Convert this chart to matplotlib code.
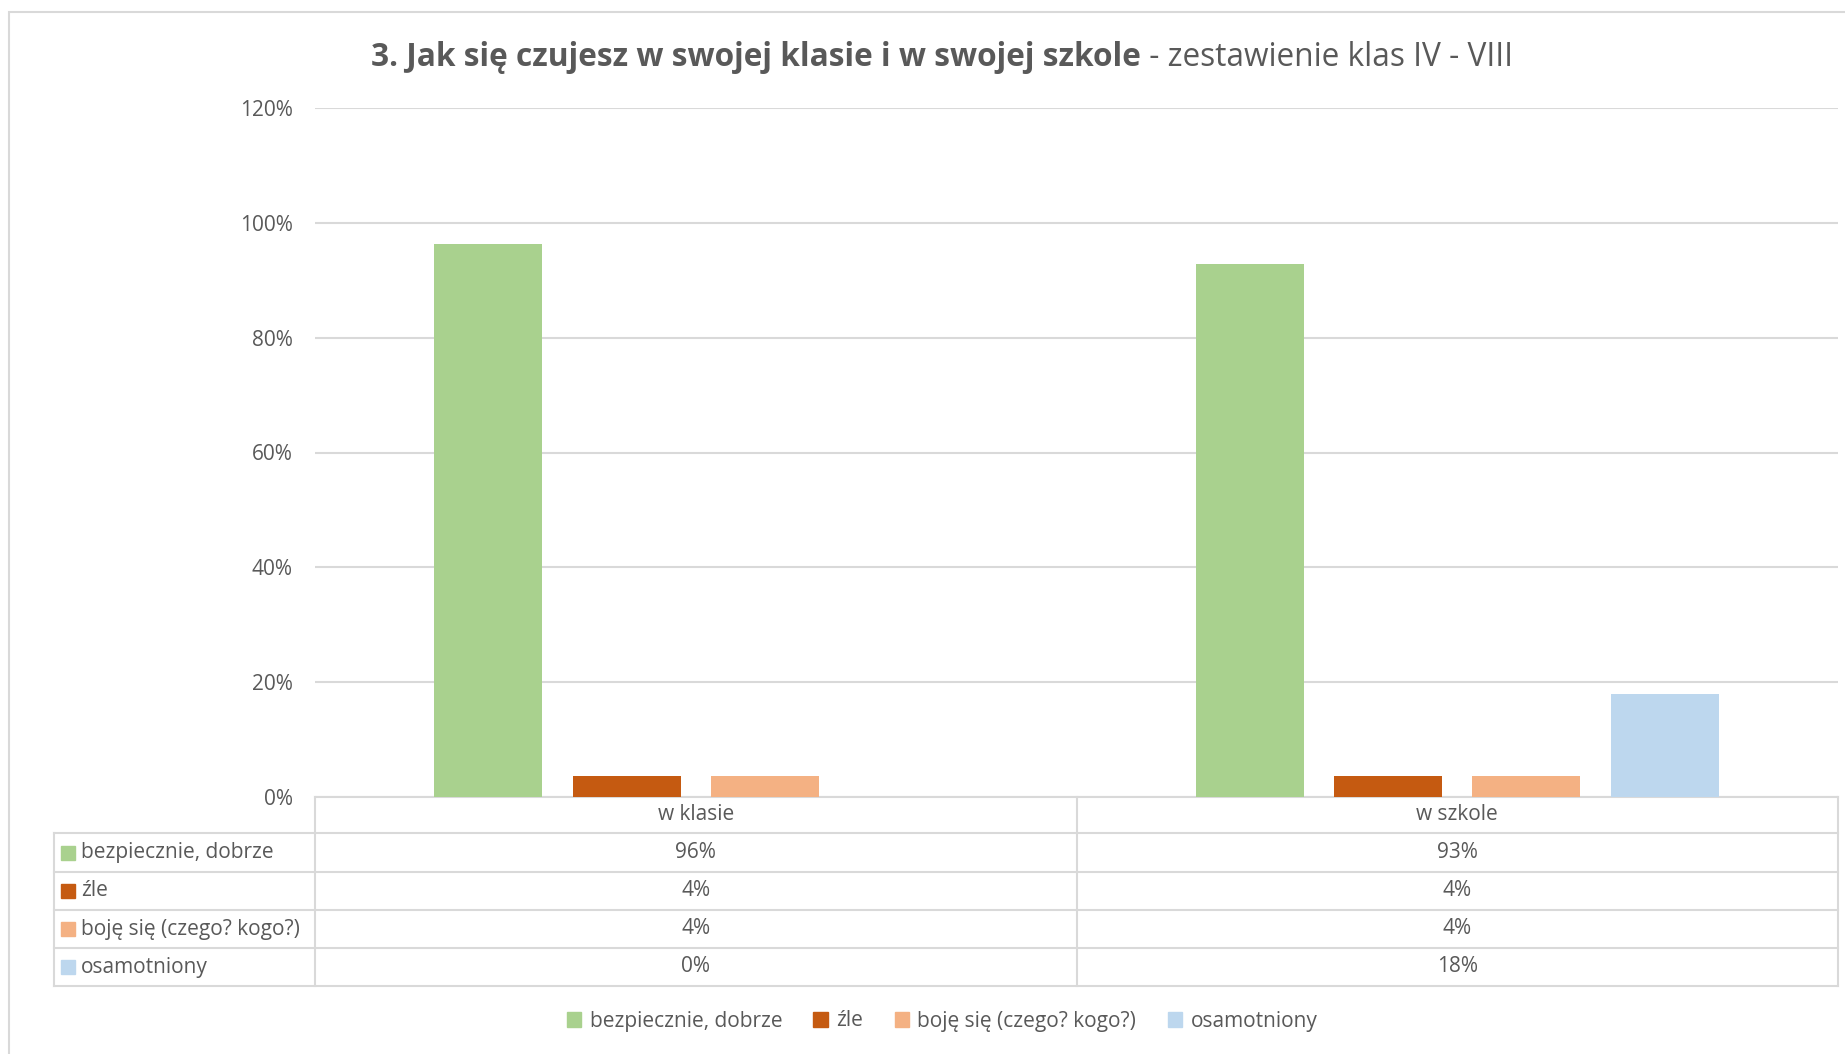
import matplotlib
matplotlib.use("Agg")
import matplotlib.pyplot as plt
import numpy as np
from matplotlib.lines import Line2D
from matplotlib.patches import Patch, Rectangle
from matplotlib.ticker import PercentFormatter

plt.rcParams['font.family'] = ['Open Sans', 'DejaVu Sans']

# data
categories = ['w klasie', 'w szkole']
series = ['bezpiecznie, dobrze', 'źle', 'boję się (czego? kogo?)', 'osamotniony']
values = [
    [0.964, 0.929],   # bezpiecznie, dobrze
    [0.036, 0.036],   # źle
    [0.036, 0.036],   # boję się
    [0.0, 0.179],     # osamotniony
]
colors = ['#A9D18E', '#C55A11', '#F4B183', '#BDD7EE']
title_bold = '3. Jak się czujesz w swojej klasie i w swojej szkole'
title_rest = ' - zestawienie klas IV - VIII'

text_col = '#595959'
line_col = '#D9D9D9'
fs = 15
W, H = 1845, 1054

fig = plt.figure(figsize=(W / 100, H / 100), dpi=100)

def fx(px):
    return px / W

def fy(py):
    return 1 - py / H

# chart border
fig.patches.append(Rectangle((fx(9), fy(1060)), fx(1850) - fx(9), fy(12) - fy(1060),
                             transform=fig.transFigure, fill=False, edgecolor=line_col, lw=1.5))

# plot area
x0, x1, ytop, ybot = 315, 1838, 108, 797
ax = fig.add_axes([fx(x0), fy(ybot), fx(x1) - fx(x0), fy(ytop) - fy(ybot)])

x = np.arange(len(categories))
step = 0.1816
width = 0.142
for i, (name, vals) in enumerate(zip(series, values)):
    ax.bar(x + (i - 1.5) * step, vals, width, color=colors[i], label=name, zorder=3)

ax.set_xlim(-0.5, len(categories) - 0.5)
ax.set_ylim(0, 1.2)
ax.set_yticks(np.arange(0, 1.21, 0.2))
ax.yaxis.set_major_formatter(PercentFormatter(1.0, decimals=0))
ax.set_xticks([])
ax.tick_params(axis='y', length=0, pad=16, labelsize=fs, labelcolor=text_col)
ax.grid(axis='y', color=line_col, lw=1.5, zorder=0)
for s in ['top', 'right', 'left']:
    ax.spines[s].set_visible(False)
ax.spines['bottom'].set_color(line_col)
ax.spines['bottom'].set_linewidth(1.5)

# data table below the plot
rows_y = [797, 833, 872, 910, 948, 986]
tbl_left = 54
col_x = [x0, (x0 + x1) / 2, x1]

def hline(xa, xb, y):
    fig.add_artist(Line2D([fx(xa), fx(xb)], [fy(y), fy(y)], color=line_col, lw=1.5))

def vline(xp, ya, yb):
    fig.add_artist(Line2D([fx(xp), fx(xp)], [fy(ya), fy(yb)], color=line_col, lw=1.5))

for y in rows_y[1:]:
    hline(tbl_left, x1, y)
for xp in col_x:
    vline(xp, rows_y[0], rows_y[-1])
vline(tbl_left, rows_y[1], rows_y[-1])

for j, cat in enumerate(categories):
    cx = (col_x[j] + col_x[j + 1]) / 2
    fig.text(fx(cx), fy((rows_y[0] + rows_y[1]) / 2), cat, ha='center', va='center',
             fontsize=fs, color=text_col)

for i, name in enumerate(series):
    cy = (rows_y[i + 1] + rows_y[i + 2]) / 2
    fig.patches.append(Rectangle((fx(61), fy(cy + 7)), fx(14), fy(0) - fy(14),
                                 transform=fig.transFigure, color=colors[i]))
    fig.text(fx(81), fy(cy), name, ha='left', va='center', fontsize=fs, color=text_col)
    for j in range(len(categories)):
        cx = (col_x[j] + col_x[j + 1]) / 2
        fig.text(fx(cx), fy(cy), f'{values[i][j] * 100:.0f}%', ha='center', va='center',
                 fontsize=fs, color=text_col)

# legend
handles = [Patch(color=c) for c in colors]
fig.legend(handles, series, loc='center', bbox_to_anchor=(fx(942), fy(1021)), ncol=4,
           frameon=False, fontsize=fs, labelcolor=text_col, handlelength=0.7,
           handleheight=0.7, handletextpad=0.4, columnspacing=1.5)

# title: bold part + normal part, centred together
fig.canvas.draw()
r = fig.canvas.get_renderer()
t1 = fig.text(0, fy(57), title_bold, fontsize=22.8, fontweight='bold', color=text_col, va='center')
t2 = fig.text(0, fy(57), title_rest, fontsize=22.8, color=text_col, va='center')
w1 = t1.get_window_extent(r).width
w2 = t2.get_window_extent(r).width
start = 942 - (w1 + w2) / 2
t1.set_x(fx(start))
t2.set_x(fx(start + w1))

fig.savefig('out.png', dpi=100)
